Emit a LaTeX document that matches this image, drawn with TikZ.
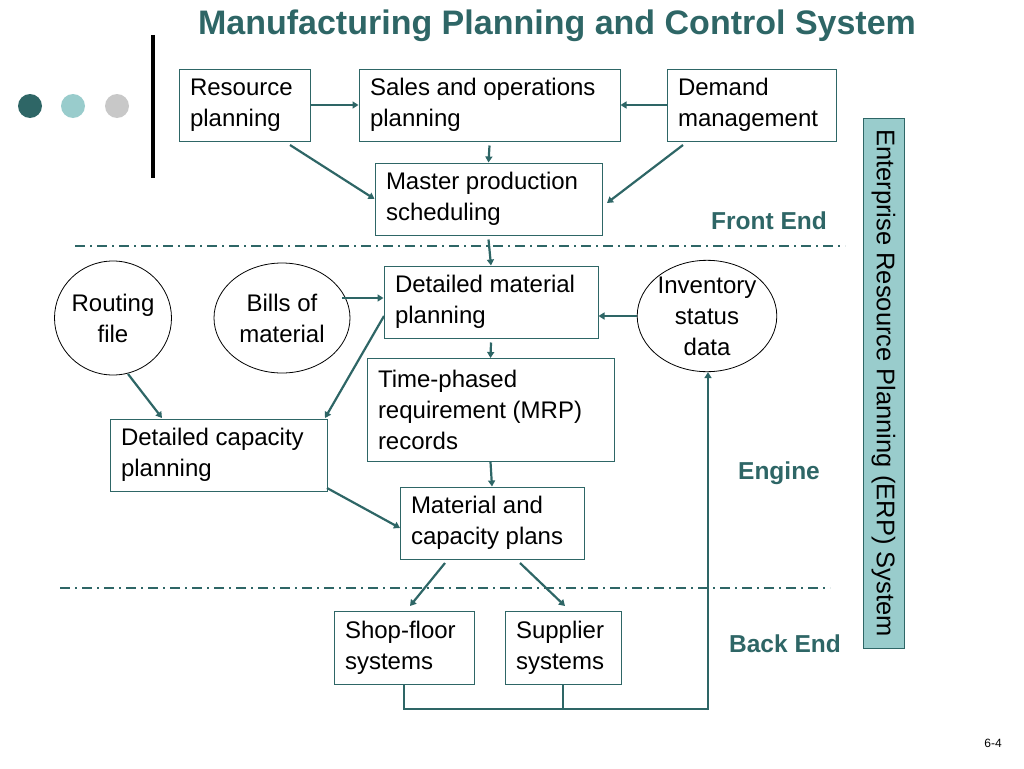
\documentclass[tikz,border=0pt]{standalone}
\usepackage{fontspec}
\setmainfont{Liberation Sans}
\usetikzlibrary{arrows.meta,shapes.geometric}
\definecolor{teal1}{HTML}{2E6666}
\definecolor{lteal}{HTML}{99CCCC}
\definecolor{gray1}{HTML}{C8C8C8}
\hyphenpenalty=10000
\begin{document}
\begin{tikzpicture}[x=1pt,y=-1pt,
  every node/.style={font=\fontsize{24}{31}\selectfont},
  box/.style={draw=teal1,line width=1pt,fill=white,align=flush left,inner sep=0pt,anchor=center},
  ell/.style={draw=black,line width=0.8pt,ellipse,align=center,inner sep=0pt},
  arr/.style={draw=teal1,line width=2.2pt,-{Triangle[length=6pt,width=7pt]}},
  ln/.style={draw=teal1,line width=2.2pt},
  dashln/.style={draw=teal1,line width=1.3pt,dash pattern=on 10pt off 5pt on 2pt off 5pt},
  lab/.style={font=\fontsize{24.5}{28}\selectfont\bfseries,text=teal1}]
\useasboundingbox (0,0) rectangle (1024,768);
\node[font=\fontsize{34}{38}\selectfont\bfseries,text=teal1] (title) at (557,26) {Manufacturing Planning and Control System};
\fill[teal1] (30,106) circle (12); \fill[lteal] (73,106) circle (12); \fill[gray1] (117,106) circle (12);
\draw[line width=4pt] (153,35) -- (153,178);
\node[lab] (fe) at (769,221) {Front End};
\node[lab] (en) at (779,473) {Engine};
\node[lab] (be) at (785,644) {Back End};
\draw[dashln] (75,246) -- (845,246);
\draw[dashln] (60,588) -- (830,588);
\node[draw=teal1,fill=lteal,minimum width=41pt,minimum height=530pt,inner sep=0pt] (erp) at (883.5,383) {};
\node[rotate=-90,font=\fontsize{25.5}{28}\selectfont] at (erp.center) {Enterprise Resource Planning (ERP) System};
\node[box,minimum width=131pt,minimum height=72pt,text width=109pt] (rp) at (244.5,105) {Resource\\planning};
\node[box,minimum width=261pt,minimum height=72pt,text width=239pt] (sop) at (489.5,105) {Sales and operations\\planning};
\node[box,minimum width=169pt,minimum height=72pt,text width=147pt] (dm) at (751.5,105) {Demand\\management};
\node[box,minimum width=227pt,minimum height=72pt,text width=205pt] (mps) at (488.5,199) {Master production\\scheduling};
\node[box,minimum width=214pt,minimum height=72pt,text width=192pt] (dmp) at (491,302) {Detailed material\\planning};
\node[ell,minimum width=110pt,minimum height=114pt] (rf) at (113,318) {Routing\\file};
\node[ell,minimum width=136pt,minimum height=110pt] (bom) at (282,318) {Bills of\\material};
\node[ell,minimum width=134pt,minimum height=110pt] (inv) at (707,316) {Inventory\\status\\data};
\node[box,minimum width=247pt,minimum height=103pt,text width=225pt] (tp) at (490.5,410) {Time-phased\\requirement (MRP)\\records};
\node[box,minimum width=217pt,minimum height=72pt,text width=195pt] (dcp) at (218.5,455) {Detailed capacity\\planning};
\node[box,minimum width=184pt,minimum height=72pt,text width=162pt] (mcp) at (492,523) {Material and\\capacity plans};
\node[box,minimum width=140pt,minimum height=73pt,text width=118pt] (sf) at (404,647.5) {Shop-floor\\systems};
\node[box,minimum width=116pt,minimum height=73pt,text width=94pt] (ss) at (563,647.5) {Supplier\\systems};
\node[font=\fontsize{12}{14}\selectfont] (pg) at (993,743) {6-4};
\draw[arr] (rp.east) -- (sop.west);
\draw[arr] (dm.west) -- (sop.east);
\draw[arr] (sop.south) ++(0,4) -- (mps.north);
\draw[arr] (290,145) -- (mps.west);
\draw[arr] (683,145) -- (607,203);
\draw[arr] (mps.south) ++(0,4) -- (dmp.north);
\draw[arr] (342,298) -- (dmp.west |- 0,298);
\draw[arr] (inv.west) -- (dmp.east |- inv.west);
\draw[arr] (dmp.south) ++(0,4) -- (tp.north);
\draw[arr] (384,316) -- (325,418);
\draw[arr] (128,374) -- (162,418);
\draw[arr] (tp.south) -- (mcp.north);
\draw[arr] (327,488) -- (400,528);
\draw[arr] (445,563) -- (410,606);
\draw[arr] (520,563) -- (565,606);
\draw[ln] (sf.south) -- (404,709) -- (708,709);
\draw[ln] (ss.south) -- (563,709);
\draw[arr] (708,710) -- (inv.south -| 708,0);
\end{tikzpicture}
\end{document}
